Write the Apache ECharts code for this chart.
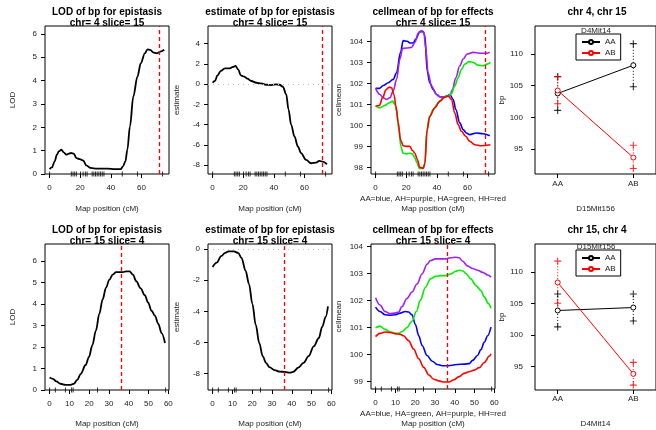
<!DOCTYPE html>
<html><head><meta charset="utf-8">
<script src="https://cdn.jsdelivr.net/npm/echarts@6/dist/echarts.min.js"></script>
<style>html,body{margin:0;padding:0;background:#fff}#c{width:656px;height:430px}</style>
</head><body><div id="c"></div><script>
// ---------- data ----------
const chr4Markers = [0,14.2,15.3,16.4,17.5,20.2,21.9,23.4,24.5,27.8,28.9,30,31.1,32.2,33.3,34.4,35.5,47.5,57.4,73.8];
const chr15Markers = [0,2.9,8,11.1,11.9,24.2,58.6];
const qtlRow1 = 71.5;
const qtlRow2 = 36.3;

const lod4X = [0,1.5,3.3,4.8,6,7.7,9.2,11,12.5,14,15.8,17.5,19.7,21.9,24,26.7,31,37.7,43,46.4,48,49.5,50.8,52.5,54.7,57.4,59.6,62.2,64,65.7,67.9,70.1,72.3,74.9];
const lod4Y = [0.21,0.28,0.54,0.83,0.97,1.04,0.93,0.83,0.87,0.9,0.87,0.68,0.64,0.58,0.37,0.26,0.23,0.23,0.21,0.21,0.33,0.54,1.04,2.04,3.32,4.18,4.75,5.17,5.34,5.32,5.2,5.17,5.24,5.32];

const est4X = [0,1.5,3.2,5.4,8,11.3,13.4,14.9,16.7,18.4,20.6,22.7,25.3,28.6,31.8,35,38.3,41.6,43.8,45.9,48.1,49.6,51.3,53.5,55.7,57.8,61.1,64.3,67.6,69.7,71.9,74.7];
const est4Y = [0.13,0.3,0.86,1.29,1.55,1.55,1.69,1.79,1.45,0.86,0.73,0.53,0.3,0.13,0.07,-0.07,-0.1,-0.03,-0.07,-0.26,-1.02,-2.51,-4,-5.16,-6.15,-6.81,-7.47,-7.8,-7.74,-7.57,-7.64,-7.9];

const blue4X = [0,2.4,5,8.3,11.5,13.7,16.3,18,20.7,22.4,24.6,26.3,28.9,31.1,32.2,33.7,35.4,37.6,39.8,42,44.1,46.3,48.5,50.7,52.4,55,57.2,59.3,61.5,65.9,70.2,74.6];
const blue4Y = [101.77,101.77,101.91,102.04,102.2,102.52,103.49,104.05,104.02,103.94,103.94,104.13,104.48,104.48,104.29,102.6,102.04,101.72,101.48,101.37,101.35,101.4,101.48,101.24,100.76,100.12,99.8,99.64,99.56,99.64,99.6,99.51];
const purple4X = [0,2.8,5,7.2,9.3,11.5,13.7,15.9,17.6,20.2,23.5,25.7,27.8,30,31.5,32.8,34.3,36.5,39.8,42,45.2,48.5,50.2,52.4,55,57.2,59.8,63.7,68,72.4,74.6];
const purple4Y = [101.77,101.48,101.32,101.24,101.32,101.64,102.2,103.17,103.68,103.7,103.73,103.97,104.4,104.53,104.45,103.65,102.52,101.88,101.48,101.37,101.37,101.43,101.72,102.28,102.85,103.17,103.41,103.49,103.45,103.45,103.49];
const green4X = [0,2.8,6.1,8.9,11.1,12.6,13.7,15.2,16.5,18,20.2,22.4,24.1,25.7,27.2,28.5,31.1,32.2,33.3,35,37.6,40.9,44.1,47.4,49.6,51.7,53.9,56.1,58.3,61.1,63.7,67,70.2,72.8,75];
const green4Y = [100.92,100.84,100.95,101.08,101.16,101,100.68,99.8,99,98.67,98.64,98.67,98.64,98.43,98.19,97.95,97.95,98.19,99.64,100.36,100.76,101.08,101.32,101.4,101.53,101.88,102.28,102.68,102.93,103.05,103.01,102.88,102.85,102.93,103.01];
const red4X = [0,2.4,4.6,6.7,8.9,10.4,12,13.3,14.8,16.3,18,20.2,22.4,24.1,25.7,27.2,28.9,31.1,32.2,33.7,35.4,38.7,42,45.2,47.4,49.6,51.7,53.9,56.1,58.9,61.5,64.8,69.1,75];
const red4Y = [100.92,100.95,101.32,101.69,101.83,101.8,101.48,100.92,100.12,99.31,99.03,99,99,98.8,98.67,98.38,98,97.95,98.19,99.8,100.44,100.84,101.16,101.35,101.4,101.24,100.6,100.04,99.72,99.48,99.24,99.08,99.03,99.08];

const lod15X = [0,1.7,3.4,5.5,8,10.6,12.3,14,15.7,18.2,19.9,21.6,23.4,25.1,26.8,28.5,30.2,31.9,33.6,35.3,37,38.7,40.4,42.1,43.8,46,48.1,49.8,51.5,53.2,54.9,56.6,58.3];
const lod15Y = [0.58,0.52,0.4,0.29,0.24,0.24,0.29,0.47,0.75,1.16,1.54,2.08,2.76,3.53,4.21,4.75,5.13,5.36,5.47,5.47,5.47,5.51,5.51,5.36,5.05,4.72,4.4,4.06,3.68,3.45,3.07,2.64,2.18];

const est15X = [0,2.1,4.3,6.4,8.1,10.7,12.9,14.6,16.7,18.4,20.1,21.8,23.6,25.3,27,28.7,31.3,33.9,36.4,39,40.7,43.3,45.9,48.5,51.1,53.6,55.4,57.1,58.3];
const est15Y = [-1.16,-0.88,-0.46,-0.25,-0.15,-0.15,-0.25,-0.57,-1.41,-2.25,-3.52,-4.88,-6.04,-6.88,-7.31,-7.58,-7.77,-7.87,-7.89,-7.94,-7.89,-7.62,-7.31,-6.88,-6.25,-5.73,-4.99,-4.36,-3.68];

const purple15X = [0,2.2,4.8,7.3,9.9,11.6,13.3,15.8,18.4,20.9,23.5,26,27.7,30.3,32.8,35.4,37.9,40.5,42.2,43.9,46.4,49,51.5,54.1,56.6,58.3];
const purple15Y = [102.1,101.83,101.59,101.51,101.53,101.57,101.77,102.07,102.31,102.61,102.98,103.34,103.48,103.54,103.54,103.54,103.58,103.6,103.58,103.46,103.28,103.18,103.12,103.04,102.94,102.86];
const green15X = [0,2.2,4.8,7.3,9.9,11.6,13.3,15.8,18.4,20.6,22.6,25.2,27.7,30.3,32.8,35.4,37.9,40.5,42.2,43.9,45.6,48.1,50.7,53.2,54.9,56.9,58.3];
const green15Y = [100.99,101.05,100.93,100.84,100.78,100.78,100.84,100.99,101.23,101.59,102.01,102.49,102.8,102.89,102.92,102.92,102.98,103.08,103.12,103.1,103,102.8,102.55,102.37,102.13,101.89,101.71];
const blue15X = [0,2.2,4.8,7.3,9.9,12.4,15,16.7,18.4,20.1,21.8,23.5,26,28.6,31.1,33.7,36.2,38.8,41.3,44.7,47.3,49,51.5,53.2,54.9,56.6,58.3];
const blue15Y = [101.75,101.59,101.47,101.45,101.47,101.53,101.59,101.57,101.47,101.11,100.69,100.33,99.96,99.75,99.63,99.58,99.58,99.6,99.63,99.64,99.66,99.78,99.96,100.18,100.45,100.69,101.01];
const red15X = [0,2.2,4.8,7.3,9.9,12.4,14.1,16.7,19.2,21.8,24.3,26.9,29.4,31.9,34.5,37.1,39.6,42.2,44.7,47.3,49.8,52.4,54.9,57.5,58.3];
const red15Y = [100.66,100.78,100.83,100.81,100.77,100.75,100.69,100.51,100.2,99.84,99.52,99.24,99.08,99.02,98.98,98.98,99.06,99.18,99.3,99.36,99.42,99.51,99.7,99.94,100.02];

const genoCats = ['AA','AB'];
// panel "chr 4, chr 15"
const p4AAmean = [103.78,108.22], p4AAlo = [101.11,104.83], p4AAhi = [106.45,111.62];
const p4ABmean = [104.25,93.69],  p4ABlo = [102.16,91.97],  p4ABhi = [106.39,95.63];
// panel "chr 15, chr 4"
const p8AAmean = [103.88,104.35], p8AAlo = [101.27,102.21], p8AAhi = [106.5,106.5];
const p8ABmean = [108.33,93.8],   p8ABlo = [105.03,92.02],  p8ABhi = [111.72,95.63];

// ---------- helpers ----------
const FONT = '"Liberation Sans", Arial, Helvetica, sans-serif';
const TXT = '#222';
const zip = (xs, ys) => xs.map((x, i) => [x, ys[i]]);
const PW = 124, PH = 148;
const gridPos = [[45,26],[208,26],[371,26],[535,26],[45,244],[208,244],[371,244],[535,244]];
const grids = gridPos.map(([l,t]) => ({left:l, top:t, width:PW, height:PH, show:true, borderColor:'#000', borderWidth:1, backgroundColor:'rgba(0,0,0,0)'}));

function mkX(gi, min, max, ticks, name, gap, margin, fmt) {
  return {gridIndex:gi, type:'value', min, max,
    axisLine:{show:false, onZero:false}, splitLine:{show:false},
    axisTick:{show:true, length:4, customValues:ticks, lineStyle:{color:'#000'}},
    axisLabel:{customValues:ticks, fontSize:8, color:TXT, margin, fontFamily:FONT, formatter:fmt},
    name, nameLocation:'middle', nameGap:gap,
    nameTextStyle:{fontSize:8, color:TXT, fontFamily:FONT, lineHeight:10}};
}
function mkY(gi, min, max, ticks, name, gap, margin) {
  return {gridIndex:gi, type:'value', min, max,
    axisLine:{show:false, onZero:false}, splitLine:{show:false},
    axisTick:{show:true, length:4, customValues:ticks, lineStyle:{color:'#000'}},
    axisLabel:{customValues:ticks, fontSize:8, color:TXT, margin, fontFamily:FONT},
    name, nameLocation:'middle', nameGap:gap,
    nameTextStyle:{fontSize:8, color:TXT, fontFamily:FONT}};
}
const mapName = 'Map position (cM)';
const catFmt = v => genoCats[Math.round(v) - 1];
const xAxes = [
  mkX(0, -3, 78, [0,20,40,60], mapName, 30, 10),
  mkX(1, -3, 78, [0,20,40,60], mapName, 30, 10),
  mkX(2, -3, 78, [0,20,40,60], 'AA=blue, AH=purple, HA=green, HH=red\n' + mapName, 20, 10),
  mkX(3, 0.7, 2.3, [1,2], 'D15Mit156', 30, 6, catFmt),
  mkX(4, -2.32, 60.32, [0,10,20,30,40,50,60], mapName, 29, 10),
  mkX(5, -2.32, 60.32, [0,10,20,30,40,50,60], mapName, 29, 10),
  mkX(6, -2.32, 60.32, [0,10,20,30,40,50,60], 'AA=blue, HA=green, AH=purple, HH=red\n' + mapName, 20, 10),
  mkX(7, 0.7, 2.3, [1,2], 'D4Mit14', 29, 5, catFmt)
];
const yAxes = [
  mkY(0, 0, 6.34, [0,1,2,3,4,5,6], 'LOD', 28, 8),
  mkY(1, -8.86, 5.72, [-8,-6,-4,-2,0,2,4], 'estimate', 27, 8),
  mkY(2, 97.68, 104.75, [98,99,100,101,102,103,104], 'cellmean', 28, 8),
  mkY(3, 91.1, 114.4, [95,100,105,110], 'bp', 29, 12),
  mkY(4, 0, 6.78, [0,1,2,3,4,5,6], 'LOD', 28, 8),
  mkY(5, -9.05, 0.32, [-8,-6,-4,-2,0], 'estimate', 27, 8),
  mkY(6, 98.72, 104.09, [99,100,101,102,103,104], 'cellmean', 28, 8),
  mkY(7, 91.24, 114.45, [95,100,105,110], 'bp', 29, 12)
];

const series = [];
const qtlLine = v => ({silent:true, symbol:'none', label:{show:false},
  lineStyle:{color:'#ff0000', type:[4,3], width:1.3}, data:[{xAxis:v}]});
const zeroLine = {silent:true, symbol:'none', label:{show:false},
  lineStyle:{color:'#bbbbbb', type:[1,4], width:1.2}, data:[{yAxis:0}]};

function curve(gi, name, xs, ys, color, w, extra) {
  series.push(Object.assign({type:'line', name, xAxisIndex:gi, yAxisIndex:gi, data:zip(xs, ys),
    showSymbol:false, symbol:'none', smooth:0.35, smoothMonotone:'x',
    lineStyle:{color, width:w}, itemStyle:{color}, z:3}, extra || {}));
}
function rug(gi, marks, ymin) {
  series.push({type:'scatter', name:'rug', xAxisIndex:gi, yAxisIndex:gi, clip:false,
    data:marks.map(m => [m, ymin]), symbol:'rect', symbolSize:[1,5],
    itemStyle:{color:'#000'}, silent:true, z:4});
}
// row 1
curve(0, 'lod4', lod4X, lod4Y, '#000', 1.8, {markLine:qtlLine(qtlRow1)});
rug(0, chr4Markers, 0);
curve(1, 'est4', est4X, est4Y, '#000', 1.8, {markLine:qtlLine(qtlRow1)});
series.push({type:'line', name:'zero', xAxisIndex:1, yAxisIndex:1, data:[], markLine:zeroLine});
rug(1, chr4Markers, -8.86);
curve(2, 'AA4', blue4X, blue4Y, '#0000ff', 1.6);
curve(2, 'AH4', purple4X, purple4Y, '#a020f0', 1.6);
curve(2, 'HA4', green4X, green4Y, '#00ee00', 1.6);
curve(2, 'HH4', red4X, red4Y, '#ff0000', 1.6, {markLine:qtlLine(qtlRow1)});
rug(2, chr4Markers, 97.68);
// row 2
curve(4, 'lod15', lod15X, lod15Y, '#000', 1.8, {markLine:qtlLine(qtlRow2)});
rug(4, chr15Markers, 0);
curve(5, 'est15', est15X, est15Y, '#000', 1.8, {markLine:qtlLine(qtlRow2)});
series.push({type:'line', name:'zero', xAxisIndex:5, yAxisIndex:5, data:[], markLine:zeroLine});
rug(5, chr15Markers, -9.05);
curve(6, 'AA15', blue15X, blue15Y, '#0000ff', 1.6);
curve(6, 'AH15', purple15X, purple15Y, '#a020f0', 1.6);
curve(6, 'HA15', green15X, green15Y, '#00ee00', 1.6);
curve(6, 'HH15', red15X, red15Y, '#ff0000', 1.6, {markLine:qtlLine(qtlRow2)});
rug(6, chr15Markers, 98.72);

// interaction panels
const PLUS = 'path://M0,5L10,5M5,0L5,10';
function interaction(gi, name, color, mean, lo, hi) {
  genoCats.forEach((c, i) => {
    series.push({type:'line', name:'bar', xAxisIndex:gi, yAxisIndex:gi,
      data:[[i+1, lo[i]], [i+1, hi[i]]], symbol:'none', silent:true,
      lineStyle:{color, width:1, type:[1,2]}, z:2});
  });
  series.push({type:'scatter', name:'ends', xAxisIndex:gi, yAxisIndex:gi, clip:false,
    data:genoCats.flatMap((c, i) => [[i+1, lo[i]], [i+1, hi[i]]]),
    symbol:PLUS, symbolSize:7, itemStyle:{color:'rgba(0,0,0,0)', borderColor:color, borderWidth:1.1}, silent:true, z:3});
  series.push({type:'line', name, xAxisIndex:gi, yAxisIndex:gi,
    data:genoCats.map((c, i) => [i+1, mean[i]]),
    symbol:'circle', symbolSize:5, showSymbol:true,
    lineStyle:{color, width:1}, itemStyle:{color:'#ffffff', borderColor:color, borderWidth:1}, z:4});
}
interaction(3, 'AA', '#000000', p4AAmean, p4AAlo, p4AAhi);
interaction(3, 'AB', '#ff0000', p4ABmean, p4ABlo, p4ABhi);
interaction(7, 'AA', '#000000', p8AAmean, p8AAlo, p8AAhi);
interaction(7, 'AB', '#ff0000', p8ABmean, p8ABlo, p8ABhi);

const legendBase = {data:['AA','AB'], orient:'vertical', selectedMode:false,
  borderColor:'#000', borderWidth:1, backgroundColor:'#fff', padding:[4,5,3,5], itemGap:3,
  itemWidth:18, itemHeight:5, textStyle:{fontSize:8, color:TXT, fontFamily:FONT}};
const legends = [Object.assign({left:576, top:34}, legendBase), Object.assign({left:576, top:250}, legendBase)];

function titleText(x, y, text, bold) {
  return {type:'text', x, y, silent:true, z:10,
    style:{text, fill:'#000', font:(bold ? 'bold ' : '') + '10px ' + FONT, textAlign:'center', textVerticalAlign:'middle'}};
}
const graphics = [
  titleText(107, 12.5, 'LOD of bp for epistasis', true), titleText(107, 23.5, 'chr= 4 slice= 15', true),
  titleText(270, 12.5, 'estimate of bp for epistasis', true), titleText(270, 23.5, 'chr= 4 slice= 15', true),
  titleText(433, 12.5, 'cellmean of bp for effects', true), titleText(433, 23.5, 'chr= 4 slice= 15', true),
  titleText(597, 12.5, 'chr 4, chr 15', true),
  titleText(107, 230, 'LOD of bp for epistasis', true), titleText(107, 241, 'chr= 15 slice= 4', true),
  titleText(270, 230, 'estimate of bp for epistasis', true), titleText(270, 241, 'chr= 15 slice= 4', true),
  titleText(433, 230, 'cellmean of bp for effects', true), titleText(433, 241, 'chr= 15 slice= 4', true),
  titleText(597, 230, 'chr 15, chr 4', true),
  {type:'text', x:596, y:31, z:11, silent:true, style:{text:'D4Mit14', fill:TXT, font:'8px ' + FONT, textAlign:'center', textVerticalAlign:'middle'}},
  {type:'text', x:596, y:247, z:11, silent:true, style:{text:'D15Mit156', fill:TXT, font:'8px ' + FONT, textAlign:'center', textVerticalAlign:'middle'}}
];

const chart = echarts.init(document.getElementById('c'), null, {renderer:'canvas'});
chart.setOption({
  animation:false, backgroundColor:'#fff',
  grid:grids, xAxis:xAxes, yAxis:yAxes, series, legend:legends, graphic:graphics
});
</script></body></html>
